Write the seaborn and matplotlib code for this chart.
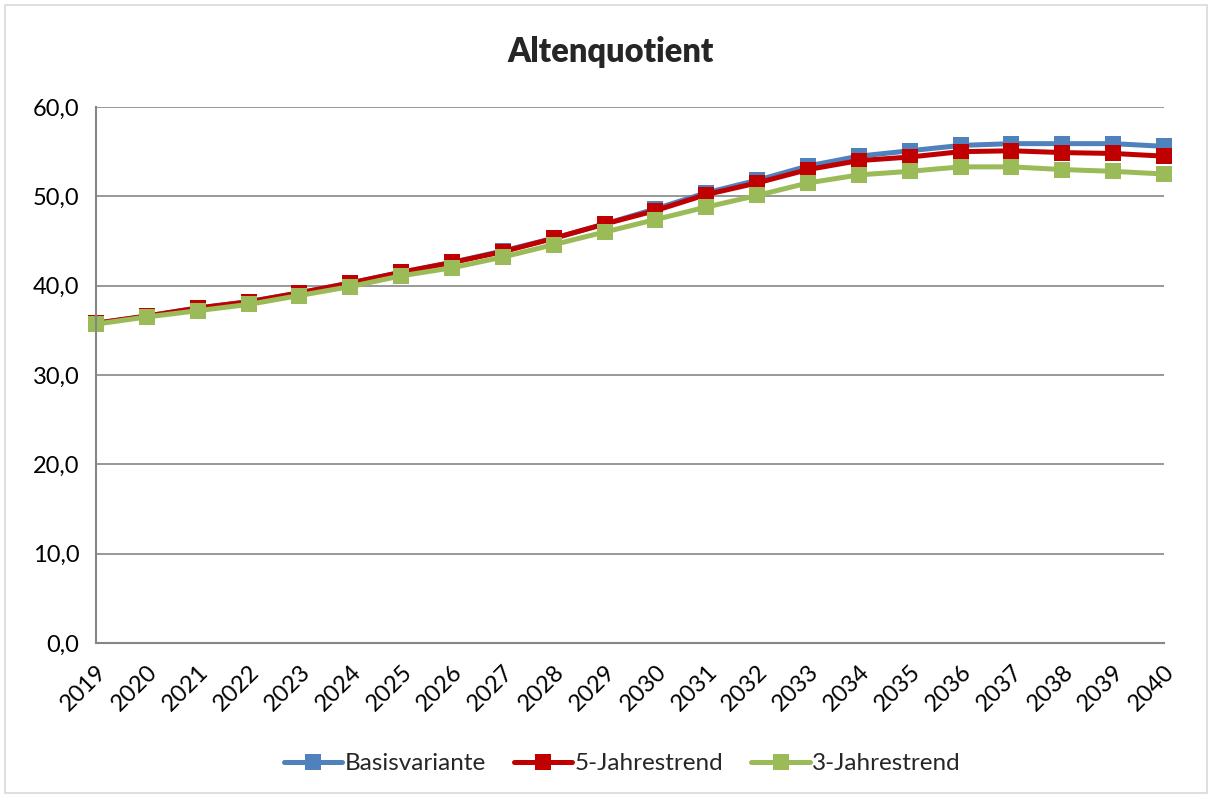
import pandas as pd
import numpy as np
import matplotlib
matplotlib.use('Agg')
import matplotlib.pyplot as plt
from matplotlib.ticker import FuncFormatter
from matplotlib.patches import Rectangle
import seaborn as sns

# Daten
years = list(range(2019, 2041))
basisvariante = [35.8, 36.6, 37.5, 38.2, 39.2, 40.3, 41.5, 42.6, 43.9, 45.3, 46.9,
                 48.6, 50.4, 51.8, 53.4, 54.5, 55.1, 55.7, 55.9, 55.9, 55.9, 55.6]
trend5 = [35.8, 36.6, 37.5, 38.2, 39.2, 40.3, 41.5, 42.6, 43.8, 45.3, 46.9,
          48.4, 50.2, 51.5, 53.0, 54.0, 54.4, 55.0, 55.1, 54.9, 54.8, 54.5]
trend3 = [35.7, 36.5, 37.2, 37.9, 38.9, 39.9, 41.1, 42.0, 43.2, 44.6, 46.0,
          47.4, 48.8, 50.1, 51.5, 52.4, 52.8, 53.3, 53.3, 53.0, 52.8, 52.5]
series_names = ['Basisvariante', '5-Jahrestrend', '3-Jahrestrend']
colors = ['#4F81BD', '#C00000', '#9BBB59']

df = pd.DataFrame({
    'Jahr': years * 3,
    'Wert': basisvariante + trend5 + trend3,
    'Variante': np.repeat(series_names, len(years)),
})

sns.set_style('white')
plt.rcParams['font.family'] = ['Lato', 'DejaVu Sans']

fig = plt.figure(figsize=(12.13, 7.98), dpi=100)
ax = fig.add_axes([0.0791, 0.1942, 0.8805, 0.6717])

sns.lineplot(data=df, x='Jahr', y='Wert', hue='Variante', style='Variante',
             palette=dict(zip(series_names, colors)),
             markers={n: 's' for n in series_names}, dashes=False,
             linewidth=3.6, markersize=11, markeredgewidth=0,
             ax=ax, legend=True, clip_on=False)

ax.set_xlim(2019, 2040)
ax.set_ylim(0, 60)
ax.set_xticks(years)
ax.set_yticks(np.arange(0, 61, 10))
ax.yaxis.set_major_formatter(FuncFormatter(lambda v, p: f'{v:.1f}'.replace('.', ',')))
ax.set_xticklabels([str(y) for y in years], rotation=45, ha='right',
                   rotation_mode='anchor')
ax.tick_params(axis='both', labelsize=17, colors='#868686', length=8, width=1.5,
               labelcolor='black', direction='out', pad=4)
ax.tick_params(axis='x', pad=5)
ax.grid(axis='y', color='#868686', linewidth=1.2)
ax.set_axisbelow(True)
for side in ['top', 'right']:
    ax.spines[side].set_visible(False)
for side in ['left', 'bottom']:
    ax.spines[side].set_color('#868686')
    ax.spines[side].set_linewidth(1.5)
ax.set_xlabel('')
ax.set_ylabel('')

handles, labels = ax.get_legend_handles_labels()
ax.legend(handles, labels, loc='center', bbox_to_anchor=(0.493, -0.225),
          ncol=3, frameon=False, fontsize=17.5, handlelength=2.4,
          handletextpad=0.1, columnspacing=1.15)

fig.text(0.503, 0.935, 'Altenquotient', ha='center', va='center',
         fontsize=23.5, fontweight='heavy')

# Rahmen um das Diagramm
fig.patches.append(Rectangle((0.004, 0.006), 0.991, 0.988, transform=fig.transFigure,
                             fill=False, edgecolor='#d9d9d9', linewidth=1.2))

plt.savefig('out.png', dpi=100)
plt.close()
